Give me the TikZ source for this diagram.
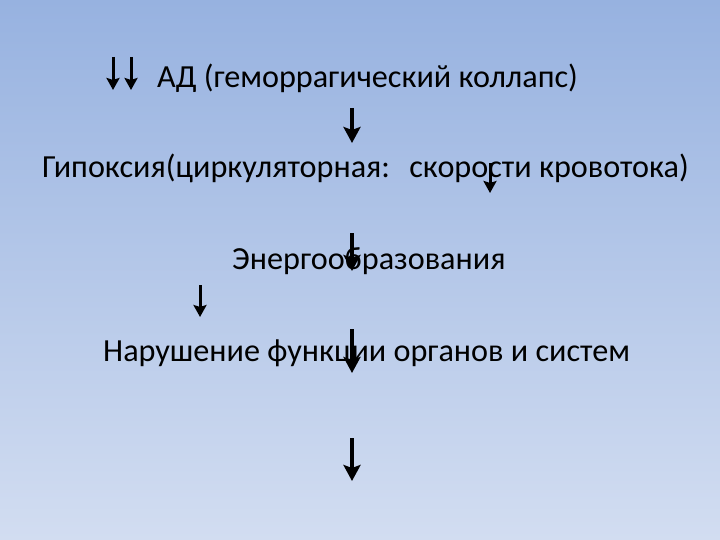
\documentclass[tikz,border=0pt]{standalone}
\usepackage{fontspec}
\setmainfont{Carlito}
\usetikzlibrary{arrows.meta}
\definecolor{bgtop}{HTML}{97B2E0}
\definecolor{bgbot}{HTML}{D2DDF1}
\begin{document}
\begin{tikzpicture}[x=1pt,y=-1pt,
  txt/.style={font=\fontsize{32.2}{36}\selectfont, inner sep=0pt, anchor=west},
  arr/.style={line width=4pt,-{Stealth[length=16pt,width=17pt,inset=3pt]}},
  sarr/.style={line width=3pt,-{Stealth[length=12pt,width=13pt,inset=2pt]}}]
\shade[top color=bgtop,bottom color=bgbot] (0,0) rectangle (720,540);
\useasboundingbox (0,0) rectangle (720,540);
\node[txt] (t1) at (157,78) {АД (геморрагический коллапс)};
\node[txt] (t2) at (42,168) {Гипоксия(циркуляторная:\hspace{0.6em}скорости кровотока)};
\node[txt] (t3) at (232,261) {Энергообразования};
\node[txt] (t4) at (103,353) {Нарушение функции органов и систем};
\coordinate (a1s) at (113,57); \coordinate (a1e) at (113,90);
\coordinate (a2s) at (131,57); \coordinate (a2e) at (131,90);
\coordinate (b1s) at (352,108); \coordinate (b1e) at (352,143);
\coordinate (b2s) at (352,233); \coordinate (b2e) at (352,271);
\coordinate (b3s) at (352,329); \coordinate (b3e) at (352,373);
\coordinate (b4s) at (352,438); \coordinate (b4e) at (352,481);
\coordinate (c1s) at (490,163); \coordinate (c1e) at (490,193);
\coordinate (c2s) at (200,285); \coordinate (c2e) at (200,317);
\draw[sarr] (a1s) -- (a1e);
\draw[sarr] (a2s) -- (a2e);
\draw[arr] (b1s) -- (b1e);
\draw[arr] (b2s) -- (b2e);
\draw[arr] (b3s) -- (b3e);
\draw[arr] (b4s) -- (b4e);
\draw[sarr] (c1s) -- (c1e);
\draw[sarr] (c2s) -- (c2e);
\end{tikzpicture}
\end{document}
